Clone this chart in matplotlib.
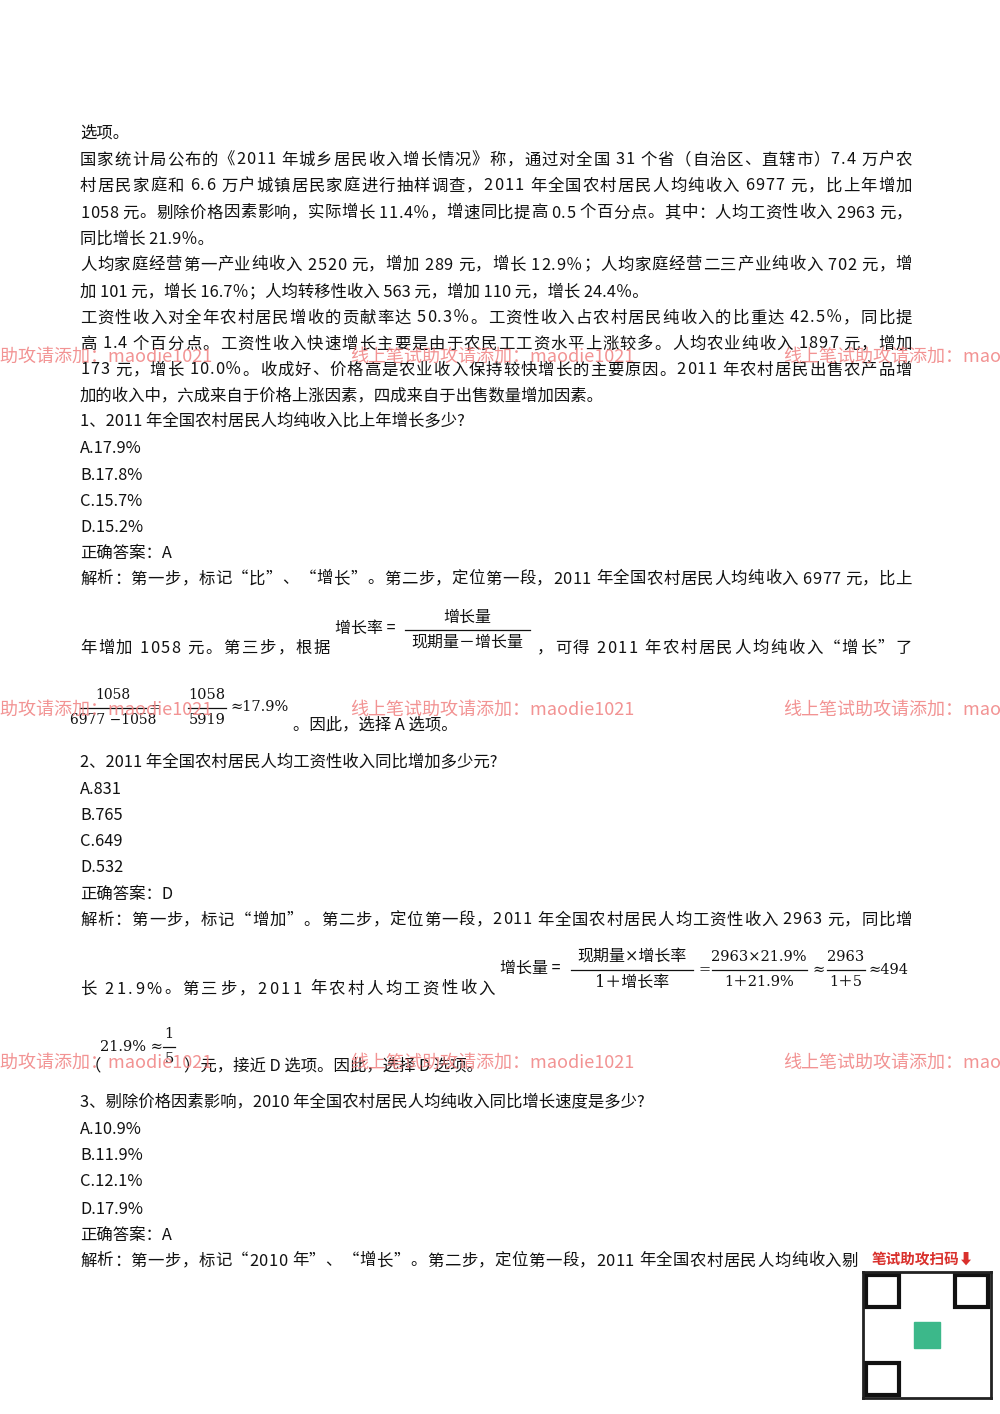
import matplotlib
matplotlib.use("Agg")
import matplotlib.pyplot as plt
from matplotlib.font_manager import FontProperties
from matplotlib.lines import Line2D

plt.rcParams['font.family'] = ['Noto Sans CJK SC', 'DejaVu Sans']

W, H = 1000, 1414
fig = plt.figure(figsize=(10, 14.14), dpi=100)
fig.patch.set_facecolor('white')
renderer = fig.canvas.get_renderer()
FS = 11.8
fp = FontProperties(family=['Noto Sans CJK SC'], size=FS)

def P(x, y):
    return x / W, 1 - y / H

def text(x, y, s, size=FS, color='#111111', ha='left', family=None, **kw):
    fam = family or ['Noto Sans CJK SC', 'DejaVu Sans']
    fig.text(*P(x, y), s, fontsize=size, color=color, ha=ha, va='center', family=fam, **kw)

def width(s):
    w, h, d = renderer.get_text_width_height_descent(s, fp, ismath=False)
    return w

def justified(x0, x1, y, s):
    n = len(s)
    wn = width(s)
    extra = (x1 - x0 - wn) / (n - 1) if n > 1 else 0
    for i, ch in enumerate(s):
        if ch == ' ':
            continue
        xi = x0 + width(s[:i]) if i else x0
        text(xi + i * extra, y, ch)

lines = [
    (133, "选项。", False),
    (160, "国家统计局公布的《2011 年城乡居民收入增长情况》称，通过对全国 31 个省（自治区、直辖市）7.4 万户农", True),
    (186, "村居民家庭和 6.6 万户城镇居民家庭进行抽样调查，2011 年全国农村居民人均纯收入 6977 元，比上年增加", True),
    (213, "1058 元。剔除价格因素影响，实际增长 11.4％，增速同比提高 0.5 个百分点。其中：人均工资性收入 2963 元，", True),
    (239, "同比增长 21.9％。", False),
    (265, "人均家庭经营第一产业纯收入 2520 元，增加 289 元，增长 12.9％；人均家庭经营二三产业纯收入 702 元，增", True),
    (292, "加 101 元，增长 16.7％；人均转移性收入 563 元，增加 110 元，增长 24.4％。", False),
    (318, "工资性收入对全年农村居民增收的贡献率达 50.3％。工资性收入占农村居民纯收入的比重达 42.5％，同比提", True),
    (344, "高 1.4 个百分点。工资性收入快速增长主要是由于农民工工资水平上涨较多。人均农业纯收入 1897 元，增加", True),
    (370, "173 元，增长 10.0％。收成好、价格高是农业收入保持较快增长的主要原因。2011 年农村居民出售农产品增", True),
    (396, "加的收入中，六成来自于价格上涨因素，四成来自于出售数量增加因素。", False),
    (422, "1、2011 年全国农村居民人均纯收入比上年增长多少?", False),
    (448, "A.17.9%", False), (475, "B.17.8%", False), (501, "C.15.7%", False), (527, "D.15.2%", False),
    (553, "正确答案：A", False),
    (579, "解析：第一步，标记“比”、“增长”。第二步，定位第一段，2011 年全国农村居民人均纯收入 6977 元，比上", True),
    (763, "2、2011 年全国农村居民人均工资性收入同比增加多少元?", False),
    (789, "A.831", False), (815, "B.765", False), (841, "C.649", False), (867, "D.532", False),
    (894, "正确答案：D", False),
    (920, "解析：第一步，标记“增加”。第二步，定位第一段，2011 年全国农村居民人均工资性收入 2963 元，同比增", True),
    (1103, "3、剔除价格因素影响，2010 年全国农村居民人均纯收入同比增长速度是多少?", False),
    (1130, "A.10.9%", False), (1156, "B.11.9%", False), (1182, "C.12.1%", False), (1209, "D.17.9%", False),
    (1235, "正确答案：A", False),
    (1261, "解析：第一步，标记“2010 年”、“增长”。第二步，定位第一段，2011 年全国农村居民人均纯收入剔", True),
]
for y, s, j in lines:
    if j:
        x1 = 858 if y == 1261 else 912
        justified(80, x1, y, s)
    else:
        text(80, y, s)

SER = ['DejaVu Serif', 'Noto Sans CJK SC']

def frac(cx, y, num, den, w, size=11.0):
    text(cx, y - 13, num, size=size, ha='center', family=SER)
    text(cx, y + 12, den, size=size, ha='center', family=SER)
    fig.add_artist(Line2D([(cx - w / 2) / W, (cx + w / 2) / W], [1 - y / H] * 2,
                          color='#111111', lw=0.9))

justified(80, 330, 648, "年增加 1058 元。第三步，根据")
text(335, 628, "增长率 =", size=11.5)
frac(467, 630, "增长量", "现期量－增长量", 125, size=11.5)
justified(537, 912, 648, "，可得 2011 年农村居民人均纯收入“增长”了")

frac(113, 708, "1058", "6977 −1058", 66, size=10)
text(149, 708, "=", family=SER, size=10)
frac(207, 708, "1058", "5919", 38, size=10.5)
text(230, 707, "≈17.9%", family=SER, size=10.5)
text(293, 725, "。因此，选择 A 选项。")

justified(80, 495, 989, "长 21.9%。第三步，2011 年农村人均工资性收入")
text(500, 968, "增长量 =", size=11.5)
frac(632, 970, "现期量×增长率", "1＋增长率", 122, size=11.5)
text(698, 970, "=", family=SER, size=10.5)
frac(759, 970, "2963×21.9%", "1＋21.9%", 95, size=10.5)
text(812, 970, "≈", family=SER, size=10.5)
frac(846, 970, "2963", "1＋5", 38, size=10.5)
text(868, 970, "≈494", family=SER, size=10.5)

text(100, 1047, "21.9% ≈", family=SER, size=10.5)
frac(169, 1047, "1", "5", 12, size=10.5)
text(85, 1066, "（")
text(184, 1066, "）元，接近 D 选项。因此，选择 D 选项。")

wm = "线上笔试助攻请添加：maodie1021"
for y in (357, 710, 1063):
    for x in (-72, 350, 783):
        text(x, y, wm, size=13, color='#f08080', alpha=0.85)

text(872, 1259, "笔试助攻扫码⬇", size=10.5, color='#d9302c', weight='bold')
ax = fig.add_axes([863 / W, 1 - 1398 / H, 128 / W, 126 / H])
ax.set_xticks([]); ax.set_yticks([])
for sp in ax.spines.values():
    sp.set_color('#222222'); sp.set_linewidth(2)
for (a, b) in [(0.02, 0.72), (0.72, 0.72), (0.02, 0.02)]:
    ax.add_patch(plt.Rectangle((a, b), 0.26, 0.26, fill=False, lw=3, color='#111111'))
ax.add_patch(plt.Rectangle((0.4, 0.4), 0.2, 0.2, color='#3cb88a'))
ax.set_xlim(0, 1); ax.set_ylim(0, 1)

fig.savefig("out.png", dpi=100, facecolor='white')
